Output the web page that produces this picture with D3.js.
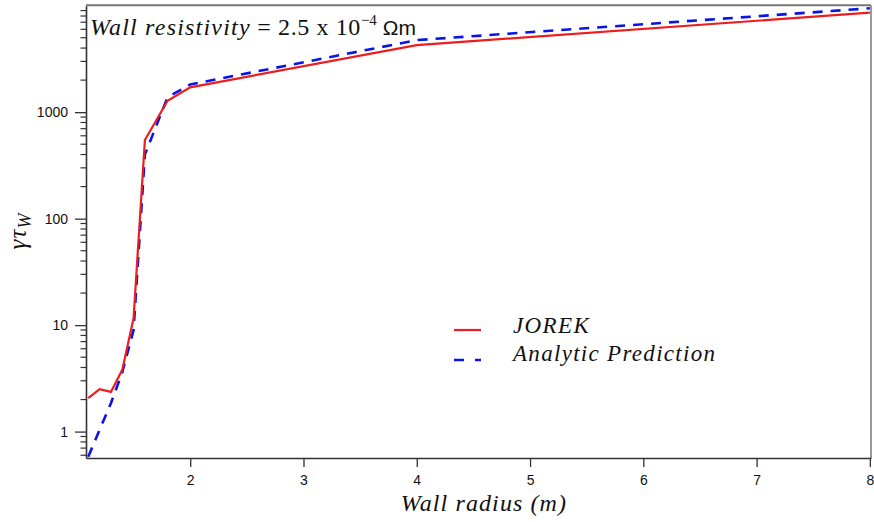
<!DOCTYPE html>
<html>
<head>
<meta charset="utf-8">
<script src="https://cdn.jsdelivr.net/npm/d3@7"></script>
<style>
  html, body { margin: 0; padding: 0; background: #fff; }
  svg { display: block; }
</style>
</head>
<body>
<svg id="chart" width="874" height="522"></svg>
<script>
// ---- data ----
const wallRadius = [1.1, 1.2, 1.3, 1.4, 1.5, 1.6, 1.8, 2, 4, 8];
const jorekValues = [2.06, 2.5, 2.36, 3.8, 11.6, 548, 1280, 1710, 4270, 8600];
const analyticValues = [0.58, 1.04, 1.85, 3.6, 9, 400, 1380, 1820, 4750, 9450];
const xTickValues = [2, 3, 4, 5, 6, 7, 8];
const yMajorTicks = [1, 10, 100, 1000];
const seriesNames = ["JOREK", "Analytic Prediction"];

// ---- layout ----
const W = 874, H = 522;
const m = { left: 86, right: 3, top: 5.7, bottom: 64 };
const svg = d3.select("#chart");

const x = d3.scaleLinear().domain([1.08, 8.01]).range([m.left, W - m.right]);
const y = d3.scaleLog().domain([0.565, 10000]).range([H - m.bottom, m.top]);

const axisColor = "#333";
const sans = "'Liberation Sans', Arial, sans-serif";
const serif = "'Liberation Serif', 'Times New Roman', serif";

// frame (top & right)
svg.append("line").attr("x1", m.left).attr("x2", W - m.right).attr("y1", m.top - 0.5).attr("y2", m.top - 0.5)
  .attr("stroke", "#777").attr("stroke-width", 2);
svg.append("line").attr("x1", W - m.right).attr("x2", W - m.right).attr("y1", m.top - 0.5).attr("y2", H - m.bottom)
  .attr("stroke", "#777").attr("stroke-width", 1.5);

// x axis
const xAxis = d3.axisBottom(x).tickValues(xTickValues).tickFormat(d3.format("d")).tickSizeInner(9).tickSizeOuter(0).tickPadding(8);
const gx = svg.append("g").attr("transform", `translate(0,${H - m.bottom})`).call(xAxis);
gx.select(".domain").attr("stroke", axisColor).attr("stroke-width", 1.6);
gx.selectAll(".tick line").attr("stroke", axisColor).attr("stroke-width", 1.3);
gx.selectAll(".tick text").attr("font-family", sans).attr("font-size", 14).attr("fill", "#111");

// y axis minor ticks
const minorTicks = [];
for (let e = -1; e <= 3; e++) {
  for (let k = 2; k <= 9; k++) {
    const v = k * Math.pow(10, e);
    if (v >= 0.565 && v < 10000) minorTicks.push(v);
  }
}
svg.append("g").selectAll("line").data(minorTicks).join("line")
  .attr("x1", m.left - 5.5).attr("x2", m.left)
  .attr("y1", d => y(d)).attr("y2", d => y(d))
  .attr("stroke", axisColor).attr("stroke-width", 1.2);

const yAxis = d3.axisLeft(y).tickValues(yMajorTicks).tickFormat(d3.format("d")).tickSizeInner(11).tickSizeOuter(0).tickPadding(7);
const gy = svg.append("g").attr("transform", `translate(${m.left},0)`).call(yAxis);
gy.select(".domain").attr("stroke", axisColor).attr("stroke-width", 1.6);
gy.selectAll(".tick line").attr("stroke", axisColor).attr("stroke-width", 1.3);
gy.selectAll(".tick text").attr("font-family", sans).attr("font-size", 14).attr("fill", "#111");

// lines
const line = d3.line().x(d => x(d[0])).y(d => y(d[1]));
svg.append("clipPath").attr("id", "clip").append("rect")
  .attr("x", m.left).attr("y", m.top).attr("width", W - m.left - m.right).attr("height", H - m.top - m.bottom);

svg.append("path").datum(d3.zip(wallRadius, analyticValues)).attr("d", line)
  .attr("fill", "none").attr("stroke", "#0a14e6").attr("stroke-width", 2.6)
  .attr("stroke-dasharray", "10,8").attr("clip-path", "url(#clip)");
svg.append("path").datum(d3.zip(wallRadius, jorekValues)).attr("d", line)
  .attr("fill", "none").attr("stroke", "#ee1c1c").attr("stroke-width", 2.2)
  .attr("clip-path", "url(#clip)");

// legend
const leg = svg.append("g");
leg.append("line").attr("x1", 454).attr("x2", 481).attr("y1", 330).attr("y2", 330)
  .attr("stroke", "#ee1c1c").attr("stroke-width", 2.2);
leg.append("line").attr("x1", 454).attr("x2", 481).attr("y1", 360).attr("y2", 360)
  .attr("stroke", "#0a14e6").attr("stroke-width", 2.6).attr("stroke-dasharray", "10,11");
leg.append("text").attr("x", 513).attr("y", 333).text(seriesNames[0])
  .attr("font-family", serif).attr("font-style", "italic").attr("font-size", 23)
  .attr("letter-spacing", 1.4).attr("fill", "#111");
leg.append("text").attr("x", 513).attr("y", 361).text(seriesNames[1])
  .attr("font-family", serif).attr("font-style", "italic").attr("font-size", 23)
  .attr("letter-spacing", 1.3).attr("fill", "#111");

// annotation
const ann = svg.append("text").attr("x", 90).attr("y", 35).attr("font-family", serif).attr("font-size", 24).attr("fill", "#111");
ann.append("tspan").attr("font-style", "italic").attr("letter-spacing", 1.2).text("Wall resistivity");
ann.append("tspan").attr("letter-spacing", 0.6).text(" = 2.5 x 10");
ann.append("tspan").attr("font-size", 15).attr("dy", -10).text("−4");
ann.append("tspan").attr("dy", 10).attr("font-family", sans).attr("font-size", 21).text(" Ωm");

// x label
svg.append("text").attr("x", 484).attr("y", 511).attr("text-anchor", "middle")
  .attr("font-family", serif).attr("font-style", "italic").attr("font-size", 24)
  .attr("letter-spacing", 1.1).attr("fill", "#111")
  .text("Wall radius (m)");

// y label
const yl = svg.append("text").attr("transform", "translate(26,231) rotate(-90)").attr("text-anchor", "middle")
  .attr("font-family", serif).attr("font-style", "italic").attr("font-size", 25)
  .attr("letter-spacing", 1).attr("fill", "#111");
yl.append("tspan").text("γτ");
yl.append("tspan").attr("font-size", 18).attr("dy", 5).text("W");
</script>
</body>
</html>
